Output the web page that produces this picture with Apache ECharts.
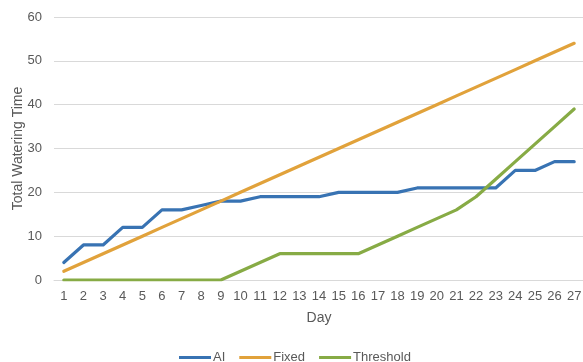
<!DOCTYPE html>
<html>
<head>
<meta charset="utf-8">
<script src="https://cdn.jsdelivr.net/npm/echarts@6/dist/echarts.min.js"></script>
<style>
  html, body { margin: 0; padding: 0; background: #ffffff; }
  #chart { width: 583px; height: 362px; }
</style>
</head>
<body>
<div id="chart"></div>
<script>
// Days 1..27
const days = ['1','2','3','4','5','6','7','8','9','10','11','12','13','14','15','16','17','18','19','20','21','22','23','24','25','26','27'];

// Cumulative watering time per strategy
const aiValues        = [4, 8, 8, 12, 12, 16, 16, 17, 18, 18, 19, 19, 19, 19, 20, 20, 20, 20, 21, 21, 21, 21, 21, 25, 25, 27, 27];
const fixedValues     = [2, 4, 6, 8, 10, 12, 14, 16, 18, 20, 22, 24, 26, 28, 30, 32, 34, 36, 38, 40, 42, 44, 46, 48, 50, 52, 54];
const thresholdValues = [0, 0, 0, 0, 0, 0, 0, 0, 0, 2, 4, 6, 6, 6, 6, 6, 8, 10, 12, 14, 16, 19, 23, 27, 31, 35, 39];

const seriesNames = ['AI', 'Fixed', 'Threshold'];
const seriesColors = ['#3873B3', '#E1A23B', '#87AB45'];

const textColor = '#595959';
const gridColor = '#D9D9D9';
const fontFamily = 'Liberation Sans, Arial, sans-serif';

const chart = echarts.init(document.getElementById('chart'), null, { renderer: 'canvas' });

function lineSeries(name, data, color) {
  return {
    name: name,
    type: 'line',
    data: data,
    symbol: 'none',
    smooth: false,
    lineStyle: { color: color, width: 3.2, cap: 'round', join: 'round' },
    itemStyle: { color: color },
    animation: false
  };
}

chart.setOption({
  backgroundColor: '#ffffff',
  textStyle: { fontFamily: fontFamily },
  grid: { left: 54, right: -1, top: 17, bottom: 82, containLabel: false, outerBoundsMode: 'none' },
  legend: {
    data: seriesNames,
    bottom: -7,
    left: 174,
    itemWidth: 32,
    itemHeight: 3,
    itemGap: 14,
    icon: 'rect',
    textStyle: { color: textColor, fontSize: 13, fontFamily: fontFamily, padding: [0, 0, 0, -3] }
  },
  xAxis: {
    type: 'category',
    data: days,
    boundaryGap: true,
    name: 'Day',
    nameLocation: 'middle',
    nameGap: 31,
    nameMoveOverlap: false,
    nameTextStyle: { color: textColor, fontSize: 14, fontFamily: fontFamily },
    axisLine: { show: true, lineStyle: { color: gridColor, width: 1 } },
    axisTick: { show: false },
    axisLabel: { color: textColor, fontSize: 13, margin: 10, interval: 0, fontFamily: fontFamily },
    splitLine: { show: false }
  },
  yAxis: {
    type: 'value',
    min: 0,
    max: 60,
    interval: 10,
    name: 'Total Watering Time',
    nameLocation: 'middle',
    nameGap: 29,
    nameMoveOverlap: false,
    nameRotate: 90,
    nameTextStyle: { color: textColor, fontSize: 14, fontFamily: fontFamily },
    axisLine: { show: false },
    axisTick: { show: false },
    axisLabel: { color: textColor, fontSize: 13, margin: 12, fontFamily: fontFamily },
    splitLine: { show: true, lineStyle: { color: gridColor, width: 1 } }
  },
  series: [
    lineSeries(seriesNames[0], aiValues, seriesColors[0]),
    lineSeries(seriesNames[1], fixedValues, seriesColors[1]),
    lineSeries(seriesNames[2], thresholdValues, seriesColors[2])
  ]
});
</script>
</body>
</html>
